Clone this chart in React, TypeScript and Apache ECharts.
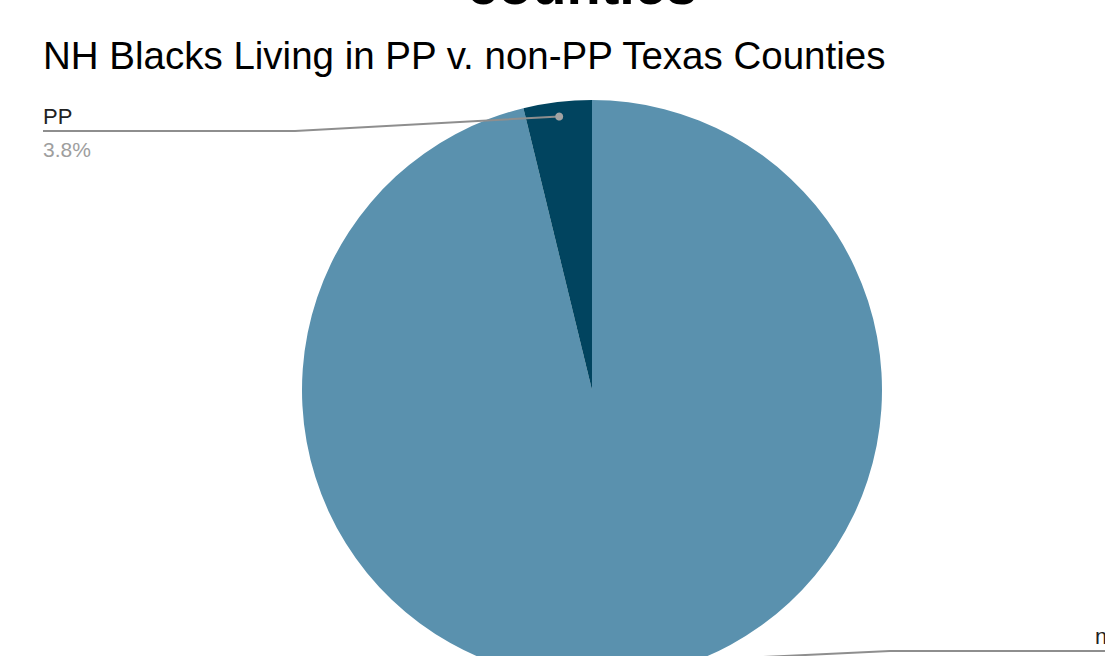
import React, { useEffect, useRef } from 'react';
import * as echarts from 'echarts';

const categories: string[] = ['non-PP', 'PP'];
const shares: number[] = [96.2, 3.8];
const sliceColors: string[] = ['#5a91ae', '#01445f'];
const headline = 'counties';
const subtitle = 'NH Blacks Living in PP v. non-PP Texas Counties';

const W = 1105;
const H = 656;
const CX = 592;
const CY = 390;
const R = 290;

// leader-line geometry per item: elbow x, horizontal line y, end x, text x
const leader = [
  { elbowX: 890, lineY: 651, endX: 1105, textX: 1095 },
  { elbowX: 295, lineY: 131, endX: 43, textX: 43 },
];

function midPoint(i: number, rf: number): number[] {
  const total = shares.reduce((a, b) => a + b, 0);
  let before = 0;
  for (let k = 0; k < i; k++) before += shares[k];
  const theta = ((before + shares[i] / 2) / total) * 2 * Math.PI;
  return [CX + rf * R * Math.sin(theta), CY - rf * R * Math.cos(theta)];
}

export default function App() {
  const ref = useRef<HTMLDivElement>(null);
  useEffect(() => {
    if (!ref.current) return;
    const chart = echarts.init(ref.current, null, { renderer: 'svg' });
    const leaders: any[] = [];
    categories.forEach((_, i) => {
      const p = midPoint(i, 0.95);
      const g = leader[i];
      leaders.push({
        type: 'polyline',
        shape: {
          points: [
            [p[0], p[1]],
            [g.elbowX, g.lineY],
            [g.endX, g.lineY],
          ],
        },
        style: { stroke: '#8e8e8e', lineWidth: 2, fill: null },
        z: 100,
      });
      leaders.push({
        type: 'circle',
        shape: { cx: p[0], cy: p[1], r: 4 },
        style: { fill: '#a3a3a3' },
        z: 101,
      });
    });
    chart.setOption({
      animation: false,
      backgroundColor: '#ffffff',
      graphic: [
        {
          type: 'text',
          x: 582,
          y: -16,
          style: {
            text: headline,
            font: 'bold 56px "Liberation Sans", Arial, sans-serif',
            fill: '#000000',
            align: 'center',
            verticalAlign: 'middle',
          },
        },
        {
          type: 'text',
          x: 43,
          y: 55,
          style: {
            text: subtitle,
            font: '38.5px "Liberation Sans", Arial, sans-serif',
            fill: '#000000',
            align: 'left',
            verticalAlign: 'middle',
          },
        },
        ...leaders,
      ],
      series: [
        {
          type: 'pie',
          center: [CX, CY],
          radius: R,
          startAngle: 90,
          clockwise: true,
          silent: true,
          avoidLabelOverlap: false,
          percentPrecision: 1,
          minShowLabelAngle: 0,
          data: categories.map((c, i) => ({
            name: c,
            value: shares[i],
            itemStyle: { color: sliceColors[i] },
          })),
          label: {
            show: true,
            position: 'outside',
            formatter: '{n|{b}}\n{v|{d}%}',
            rich: {
              n: {
                fontSize: 22,
                lineHeight: 28,
                color: '#222222',
                fontFamily: '"Liberation Sans", Arial, sans-serif',
              },
              v: {
                fontSize: 21,
                lineHeight: 39,
                color: '#9e9e9e',
                fontFamily: '"Liberation Sans", Arial, sans-serif',
              },
            },
          },
          labelLine: { show: false },
          labelLayout: (params: any) => {
            const g = leader[params.dataIndex];
            return {
              x: g.textX,
              y: g.lineY - 28.7,
              align: 'left',
              verticalAlign: 'top',
            };
          },
        },
      ],
    });
    return () => chart.dispose();
  }, []);
  return (
    <div
      ref={ref}
      style={{ position: 'fixed', left: 0, top: 0, width: W, height: H, overflow: 'hidden' }}
    />
  );
}
